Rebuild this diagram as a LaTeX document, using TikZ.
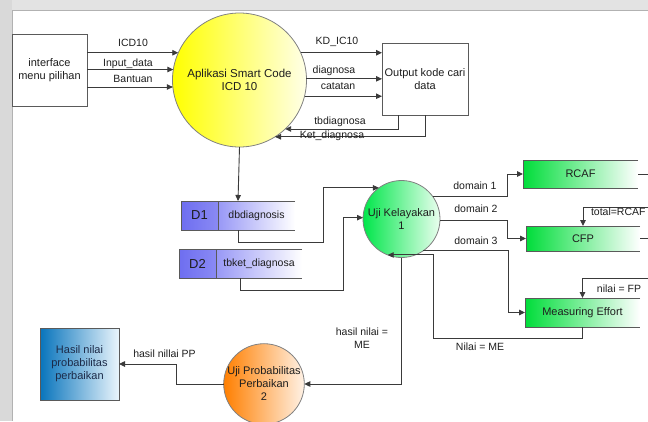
\documentclass[tikz,border=0pt]{standalone}
\usepackage{fontspec}
\setmainfont{Liberation Sans}
\usetikzlibrary{arrows.meta,calc}
\definecolor{lncol}{HTML}{3A3A3A}
\definecolor{bdcol}{HTML}{5A5A5A}
\definecolor{txt}{HTML}{1E1E1E}
\definecolor{navy}{HTML}{1C2A48}
\definecolor{ylw}{HTML}{FFFF00}
\definecolor{ylwr}{HTML}{FFFFE8}
\definecolor{grn}{HTML}{00E64A}
\definecolor{grnr}{HTML}{EAFFEF}
\definecolor{gbox}{HTML}{00DD3A}
\definecolor{org}{HTML}{FF7F00}
\definecolor{orgr}{HTML}{FFF2E6}
\definecolor{blu}{HTML}{0874BC}
\definecolor{blur}{HTML}{EAF5FC}
\definecolor{sid}{HTML}{6E6EF0}
\definecolor{sidr}{HTML}{8A8AF4}
\definecolor{stx}{HTML}{9898F6}
\begin{document}
\begin{tikzpicture}[x=1pt,y=-1pt,
  every node/.style={inner sep=0pt, outer sep=0pt, text=txt, align=center},
  lbl/.style={font=\fontsize{10.5}{12.5}\selectfont},
  mid/.style={font=\fontsize{11}{13}\selectfont},
  big/.style={font=\fontsize{11.5}{13.5}\selectfont},
  conn/.style={draw=lncol, line width=0.9pt},
  arr/.style={conn, -{Triangle[length=6pt,width=5.5pt]}},
  edgeln/.style={draw=bdcol, line width=0.9pt},
  whitebox/.style={draw=bdcol, line width=0.9pt, fill=white, mid},
  proc/.style={circle, draw=black!50, line width=0.8pt, mid},
  gbx/.style={left color=gbox, right color=white, shading angle=90, mid},
]
\useasboundingbox (0,0) rectangle (648,421);
% window frame
\fill[gray!22] (0,0) rectangle (648,10);
\fill[gray!30] (0,0) rectangle (12,421);
\draw[gray!60, line width=1pt] (12,421) -- (12,10) -- (648,10);

% main nodes
\node[whitebox, minimum width=75pt, minimum height=72pt] (iface) at (49.5,70) {interface\\menu pilihan};
\node[proc, big, left color=ylw, right color=ylwr, minimum size=134pt] (p0) at (239.5,80) {Aplikasi Smart Code\\ICD 10};
\node[whitebox, minimum width=86pt, minimum height=72pt] (out) at (425,79) {Output kode cari\\data};

% data stores
\node[minimum width=114pt, minimum height=29pt] (d1) at (238,215.5) {};
\node[minimum width=37pt, minimum height=29pt, left color=sid, right color=sidr, font=\fontsize{13}{15}\selectfont] (d1id) at (199.5,215.5) {D1};
\node[minimum width=77pt, minimum height=29pt, left color=stx, right color=white, lbl] (d1t) at (256.5,215.5) {dbdiagnosis};
\draw[edgeln] (d1.north east) -- (d1.north west) -- (d1.south west) -- (d1.south east);
\draw[edgeln] (d1id.north east) -- (d1id.south east);

\node[minimum width=123pt, minimum height=29pt] (d2) at (240.5,263.5) {};
\node[minimum width=37pt, minimum height=29pt, left color=sid, right color=sidr, font=\fontsize{13}{15}\selectfont] (d2id) at (197.5,263.5) {D2};
\node[minimum width=86pt, minimum height=29pt, left color=stx, right color=white, lbl] (d2t) at (259,263.5) {tbket\_diagnosa};
\draw[edgeln] (d2.north east) -- (d2.north west) -- (d2.south west) -- (d2.south east);
\draw[edgeln] (d2id.north east) -- (d2id.south east);

% green process and boxes
\node[proc, left color=grn, right color=grnr, minimum size=77pt] (p1) at (401.5,219) {Uji Kelayakan\\1};
\node[gbx, minimum width=115pt, minimum height=28pt] (rcaf) at (580.5,174) {RCAF};
\node[gbx, minimum width=114pt, minimum height=25pt] (cfp) at (583,238.5) {CFP};
\node[gbx, minimum width=115pt, minimum height=29pt] (me) at (582.5,312.5) {Measuring Effort};
\foreach \b in {rcaf,cfp,me}{\draw[edgeln] (\b.north east) -- (\b.north west) -- (\b.south west) -- (\b.south east);}

% orange process and result
\node[proc, left color=org, right color=orgr, minimum size=78pt] (p2) at (264,384) {Uji Probabilitas\\Perbaikan\\2};
\node[draw=bdcol, line width=0.9pt, left color=blu, right color=blur, minimum width=79pt, minimum height=72pt, mid, text=navy] (res) at (79.5,364) {Hasil nilai\\probabilitas\\perbaikan};

% connectors top
\draw[arr] (iface.east |- p0.156) -- (p0.156);
\draw[arr] (iface.east |- p0.171) -- (p0.171);
\draw[arr] (iface.east |- p0.186) -- (p0.186);
\draw[arr] (p0.24) -- (out.west |- p0.24);
\draw[arr] (p0.1) -- (out.west |- p0.1);
\draw[arr] (p0.346) -- (out.west |- p0.346);
\draw[arr] ([xshift=-27pt]out.south) |- (p0.313);
\draw[arr] (out.south) |- (p0.302);
\draw[arr] (p0.south) -- (d1.north);

% stores to green process
\draw[arr] (d1.south) |- (323,242) |- (p1.126);
\draw[arr] (d2.south) |- (343,290) |- (p1.178);

% domains
\draw[arr] (p1.35) -| ([xshift=-16pt]rcaf.west) -- (rcaf.west);
\draw[arr] (p1.358) -| ([xshift=-19pt]cfp.west) -- (cfp.west);
\draw[arr] (p1.304) -| ([xshift=-17pt]me.west) -- (me.west);
\coordinate (rcafo) at (650,174);
\coordinate (cfpo) at (650,238.5);
\draw[conn] (rcaf.east) -- (rcafo);
\draw[conn] (cfp.east) -- (cfpo);
\coordinate (tin) at (650,207);
\coordinate (fin) at (650,278);
\draw[arr] (tin) -| (cfp.north);
\draw[arr] (fin) -| (me.north);
\draw[arr] (me.south) |- (433,338) |- (p1.249);

% bottom
\draw[arr] (p1.south) |- (p2.east);
\draw[arr] (p2.west) -| ([xshift=57pt]res.east) -- (res.east);

% labels
\node[lbl] (lICD) at (133,43) {ICD10};
\node[lbl] (lin) at (128,64) {Input\_data};
\node[lbl] (lban) at (133,79) {Bantuan};
\node[lbl] (lkd) at (337,42) {KD\_IC10};
\node[lbl] (ldg) at (334,71) {diagnosa};
\node[lbl] (lct) at (338,86) {catatan};
\node[lbl] (ltb) at (340,122) {tbdiagnosa};
\node[lbl] (lket) at (332,135.5) {Ket\_diagnosa};
\node[lbl] (ld1) at (475,186) {domain 1};
\node[lbl] (ld2) at (476,209) {domain 2};
\node[lbl] (ld3) at (476,241) {domain 3};
\node[lbl, anchor=west] (ltot) at (591,212) {total=RCAF};
\node[lbl] (lfp) at (619,289) {nilai = FP};
\node[lbl] (lme) at (480,347) {Nilai = ME};
\node[lbl] (lhn) at (362,338) {hasil nilai =\\ME};
\node[lbl] (lpp) at (164.5,354) {hasil nillai PP};
\end{tikzpicture}
\end{document}
